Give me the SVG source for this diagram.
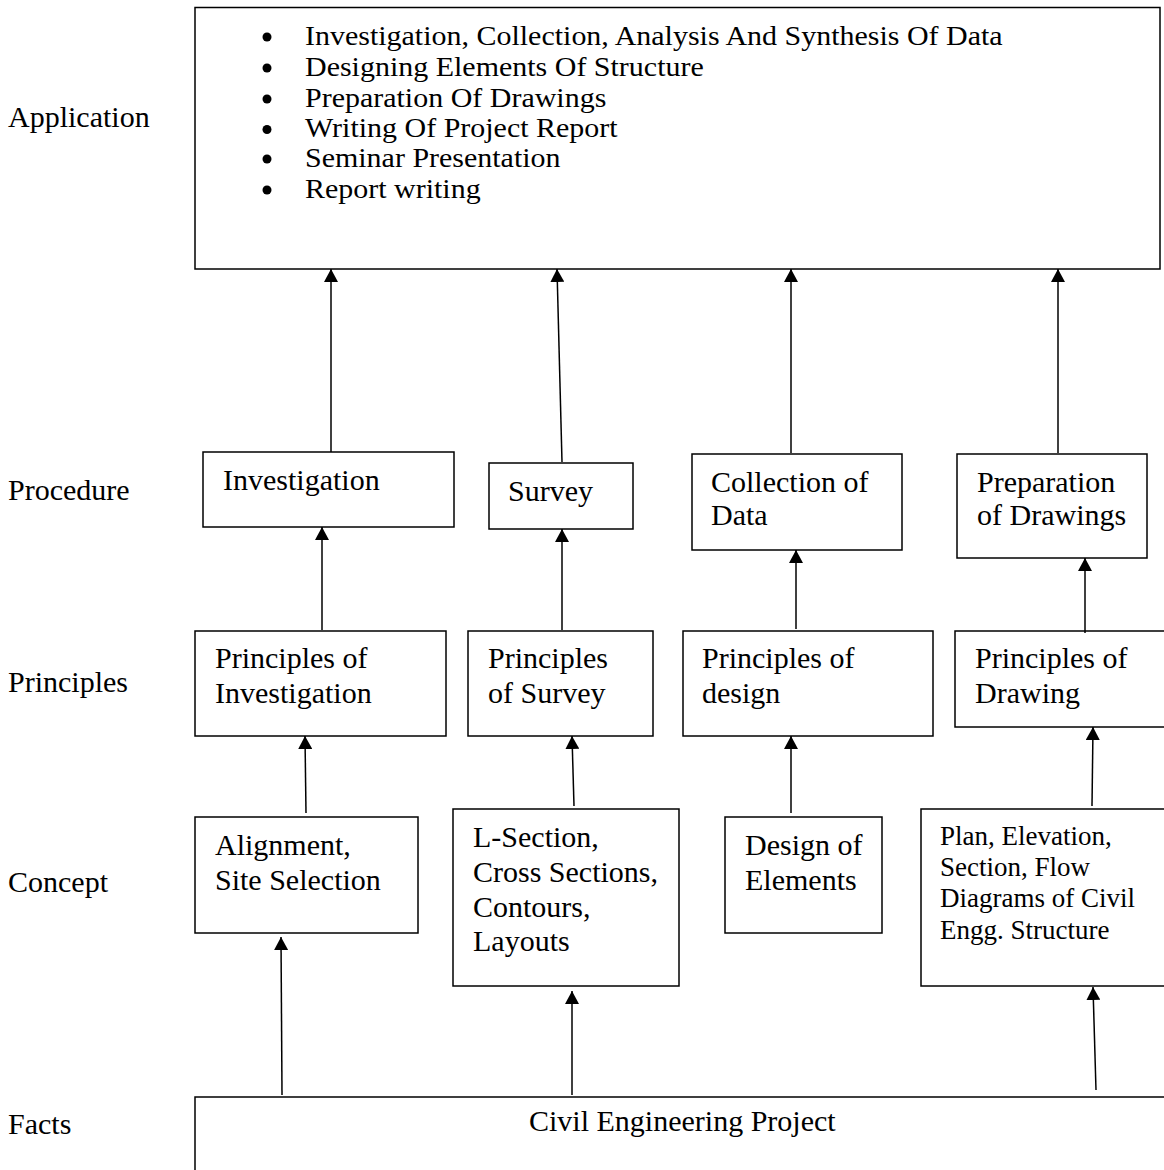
<svg xmlns="http://www.w3.org/2000/svg" width="1164" height="1170" viewBox="0 0 1164 1170">
<style>
  .box { fill: #ffffff; stroke: #000000; stroke-width: 1.5; }
  .t { font-family: "Liberation Serif", "Times New Roman", serif; font-size: 30px; fill: #000000; }
  .ts { font-family: "Liberation Serif", "Times New Roman", serif; font-size: 27px; fill: #000000; }
  .conn { stroke: #000000; stroke-width: 1.5; fill: none; marker-end: url(#arrow); }
</style>
<defs>
  <marker id="arrow" viewBox="0 0 13 14" refX="13" refY="7" markerWidth="13" markerHeight="14" markerUnits="userSpaceOnUse" orient="auto">
    <path d="M0,0 L13,7 L0,14 z" fill="#000000"/>
  </marker>
</defs>
<rect x="0" y="0" width="1164" height="1170" fill="#ffffff"/>

<g id="levels">
  <text class="t" x="8" y="127">Application</text>
  <text class="t" x="8" y="500">Procedure</text>
  <text class="t" x="8" y="692">Principles</text>
  <text class="t" x="8" y="892">Concept</text>
  <text class="t" x="8" y="1134">Facts</text>
</g>

<g id="application">
  <rect class="box" x="195" y="7.5" width="965" height="261.5"/>
  <circle cx="267" cy="37" r="4.5"/>
  <circle cx="267" cy="68" r="4.5"/>
  <circle cx="267" cy="99" r="4.5"/>
  <circle cx="267" cy="129.5" r="4.5"/>
  <circle cx="267" cy="159" r="4.5"/>
  <circle cx="267" cy="190" r="4.5"/>
  <g transform="translate(305,0) scale(1.111,1)">
    <text class="ts" x="0" y="45">Investigation, Collection, Analysis And Synthesis Of Data</text>
    <text class="ts" x="0" y="76">Designing Elements Of Structure</text>
    <text class="ts" x="0" y="107">Preparation Of Drawings</text>
    <text class="ts" x="0" y="137.5">Writing Of Project Report</text>
    <text class="ts" x="0" y="167.5">Seminar Presentation</text>
    <text class="ts" x="0" y="198">Report writing</text>
  </g>
</g>

<g id="investigation">
  <rect class="box" x="203" y="452" width="251" height="75"/>
  <text class="t" x="223" y="490">Investigation</text>
</g>
<g id="survey">
  <rect class="box" x="489" y="463" width="144" height="66"/>
  <text class="t" x="508" y="501">Survey</text>
</g>
<g id="collection-of-data">
  <rect class="box" x="692" y="454" width="210" height="96"/>
  <text class="t" x="711" y="492">Collection of</text>
  <text class="t" x="711" y="525">Data</text>
</g>
<g id="preparation-of-drawings">
  <rect class="box" x="957" y="454" width="190" height="104"/>
  <text class="t" x="977" y="492">Preparation</text>
  <text class="t" x="977" y="525">of Drawings</text>
</g>

<g id="principles-of-investigation">
  <rect class="box" x="195" y="631" width="251" height="105"/>
  <text class="t" x="215" y="668">Principles of</text>
  <text class="t" x="215" y="703">Investigation</text>
</g>
<g id="principles-of-survey">
  <rect class="box" x="468" y="631" width="185" height="105"/>
  <text class="t" x="488" y="668">Principles</text>
  <text class="t" x="488" y="703">of Survey</text>
</g>
<g id="principles-of-design">
  <rect class="box" x="683" y="631" width="250" height="105"/>
  <text class="t" x="702" y="668">Principles of</text>
  <text class="t" x="702" y="703">design</text>
</g>
<g id="principles-of-drawing">
  <rect class="box" x="955" y="631" width="230" height="96"/>
  <text class="t" x="975" y="668">Principles of</text>
  <text class="t" x="975" y="703">Drawing</text>
</g>

<g id="alignment">
  <rect class="box" x="195" y="817" width="223" height="116"/>
  <text class="t" x="215" y="855">Alignment,</text>
  <text class="t" x="215" y="890">Site Selection</text>
</g>
<g id="l-section">
  <rect class="box" x="453" y="809" width="226" height="177"/>
  <text class="t" x="473" y="847">L-Section,</text>
  <text class="t" x="473" y="882">Cross Sections,</text>
  <text class="t" x="473" y="917">Contours,</text>
  <text class="t" x="473" y="951">Layouts</text>
</g>
<g id="design-of-elements">
  <rect class="box" x="725" y="817" width="157" height="116"/>
  <text class="t" x="745" y="855">Design of</text>
  <text class="t" x="745" y="890">Elements</text>
</g>
<g id="plan-elevation">
  <rect class="box" x="921" y="809" width="264" height="177"/>
  <text class="ts" x="940" y="845">Plan, Elevation,</text>
  <text class="ts" x="940" y="876">Section, Flow</text>
  <text class="ts" x="940" y="907">Diagrams of Civil</text>
  <text class="ts" x="940" y="939">Engg. Structure</text>
</g>

<g id="civil-engineering-project">
  <rect class="box" x="195" y="1097" width="1000" height="100"/>
  <text class="t" x="529" y="1131">Civil Engineering Project</text>
</g>

<g id="connectors">
  <line class="conn" x1="331" y1="452" x2="331" y2="269"/>
  <line class="conn" x1="562" y1="462" x2="557" y2="269"/>
  <line class="conn" x1="791" y1="453" x2="791" y2="269"/>
  <line class="conn" x1="1058" y1="453" x2="1058" y2="269"/>
  <line class="conn" x1="322" y1="630" x2="322" y2="527"/>
  <line class="conn" x1="562" y1="630" x2="562" y2="529"/>
  <line class="conn" x1="796" y1="629" x2="796" y2="550"/>
  <line class="conn" x1="1085" y1="633" x2="1085" y2="558"/>
  <line class="conn" x1="306" y1="813" x2="305" y2="736"/>
  <line class="conn" x1="574" y1="806" x2="572" y2="736"/>
  <line class="conn" x1="791" y1="813" x2="791" y2="736"/>
  <line class="conn" x1="1092" y1="806" x2="1093" y2="727"/>
  <line class="conn" x1="282" y1="1095" x2="281" y2="937"/>
  <line class="conn" x1="572" y1="1095" x2="572" y2="991"/>
  <line class="conn" x1="1096" y1="1090" x2="1093" y2="987"/>
</g>
</svg>
